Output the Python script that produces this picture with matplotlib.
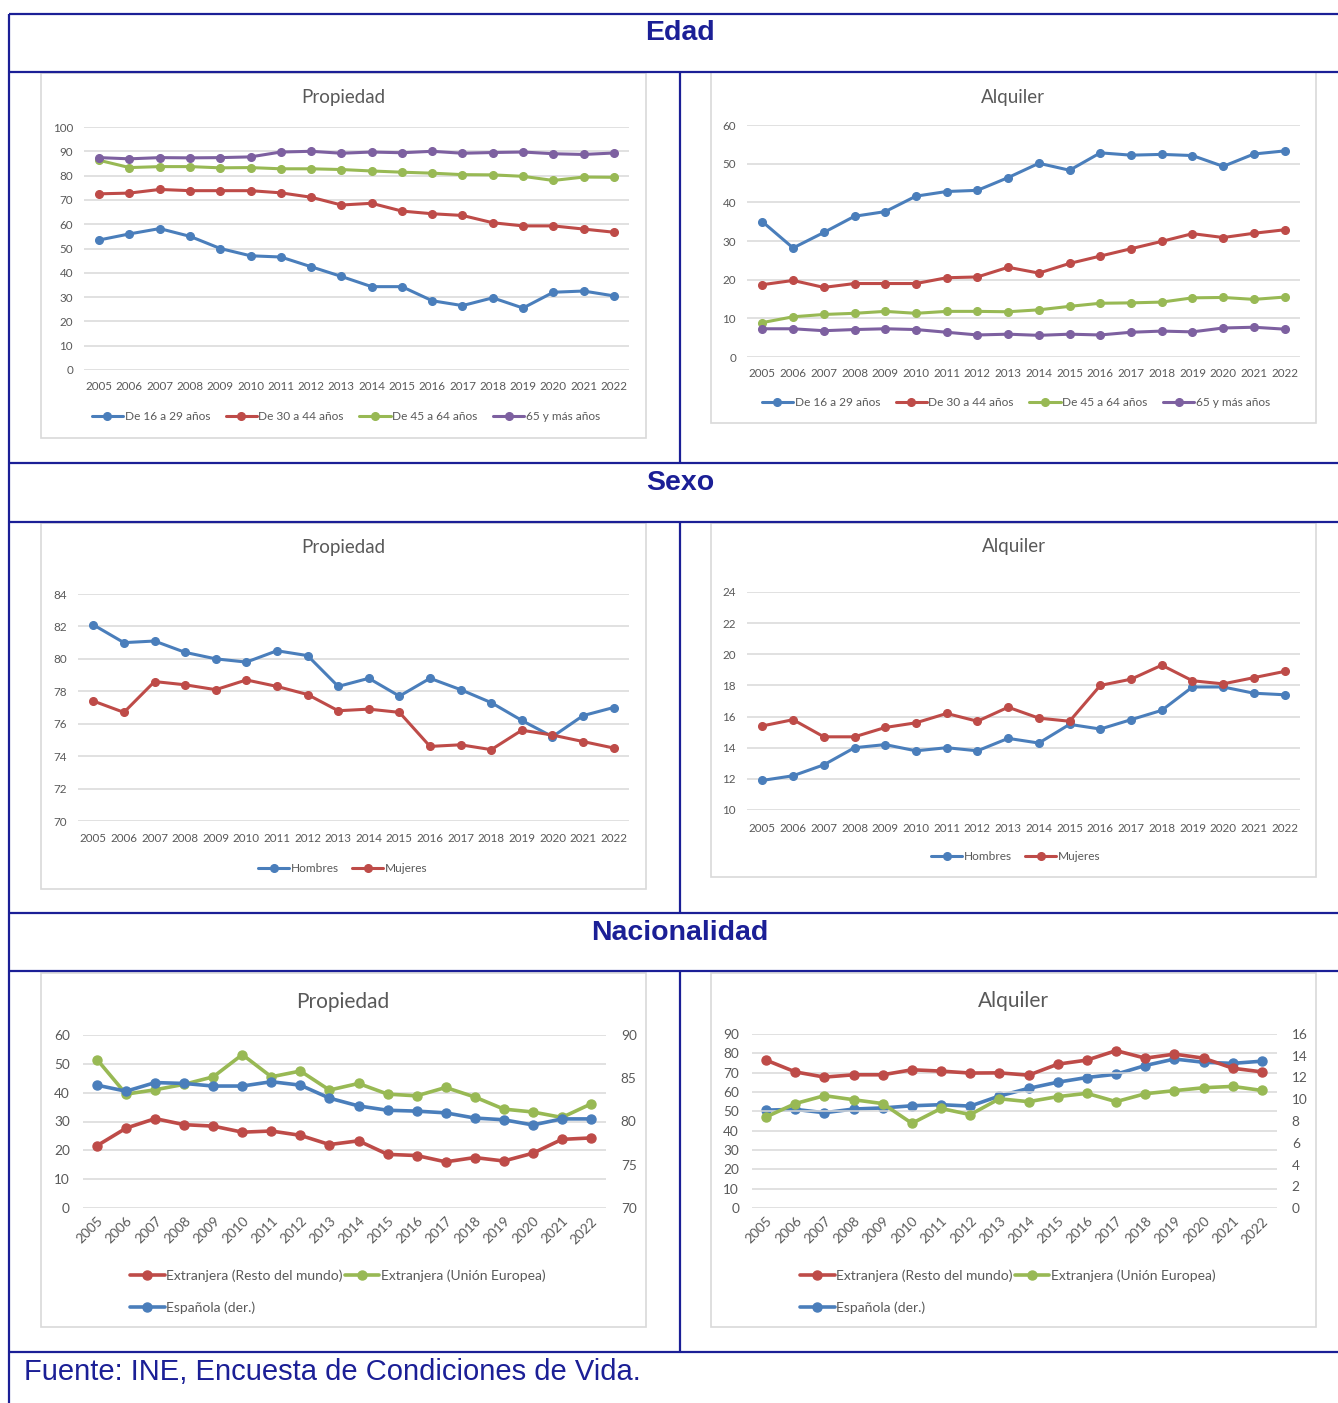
import matplotlib
matplotlib.use("Agg")
import matplotlib.pyplot as plt
from matplotlib.lines import Line2D
from matplotlib.patches import Rectangle

plt.rcParams['font.family'] = ['Lato', 'DejaVu Sans']

# ---------------- data ----------------
years = [str(y) for y in range(2005, 2023)]

# Edad - Propiedad
edad_prop_16_29 = [53.5, 56.0, 58.2, 55.0, 50.0, 47.0, 46.5, 42.5, 38.5, 34.3, 34.3, 28.5, 26.5, 29.7, 25.5, 32.0, 32.5, 30.5]
edad_prop_30_44 = [72.5, 72.8, 74.3, 73.8, 73.8, 73.8, 72.9, 71.1, 67.9, 68.6, 65.4, 64.3, 63.6, 60.6, 59.3, 59.3, 58.0, 56.7]
edad_prop_45_64 = [86.3, 83.3, 83.7, 83.7, 83.2, 83.3, 82.8, 82.8, 82.5, 81.9, 81.4, 81.0, 80.4, 80.3, 79.7, 78.0, 79.4, 79.3]
edad_prop_65 = [87.4, 86.9, 87.4, 87.3, 87.4, 87.7, 89.7, 90.0, 89.2, 89.7, 89.4, 90.0, 89.2, 89.5, 89.7, 89.0, 88.7, 89.3]

# Edad - Alquiler
edad_alq_16_29 = [35.0, 28.2, 32.2, 36.4, 37.6, 41.6, 42.8, 43.1, 46.4, 50.1, 48.3, 52.8, 52.2, 52.4, 52.1, 49.3, 52.5, 53.3]
edad_alq_30_44 = [18.7, 19.8, 18.0, 19.0, 19.0, 19.0, 20.5, 20.7, 23.2, 21.7, 24.2, 26.1, 28.0, 29.9, 31.9, 30.9, 32.0, 32.9]
edad_alq_45_64 = [8.9, 10.4, 11.0, 11.3, 11.8, 11.3, 11.8, 11.8, 11.7, 12.2, 13.1, 13.9, 14.0, 14.2, 15.3, 15.4, 14.9, 15.5]
edad_alq_65 = [7.3, 7.3, 6.8, 7.1, 7.3, 7.1, 6.4, 5.7, 5.9, 5.6, 5.9, 5.7, 6.4, 6.7, 6.5, 7.5, 7.7, 7.2]

# Sexo - Propiedad
sexo_prop_hombres = [82.1, 81.0, 81.1, 80.4, 80.0, 79.8, 80.5, 80.2, 78.3, 78.8, 77.7, 78.8, 78.1, 77.3, 76.2, 75.2, 76.5, 77.0]
sexo_prop_mujeres = [77.4, 76.7, 78.6, 78.4, 78.1, 78.7, 78.3, 77.8, 76.8, 76.9, 76.7, 74.6, 74.7, 74.4, 75.6, 75.3, 74.9, 74.5]

# Sexo - Alquiler
sexo_alq_hombres = [11.9, 12.2, 12.9, 14.0, 14.2, 13.8, 14.0, 13.8, 14.6, 14.3, 15.5, 15.2, 15.8, 16.4, 17.9, 17.9, 17.5, 17.4]
sexo_alq_mujeres = [15.4, 15.8, 14.7, 14.7, 15.3, 15.6, 16.2, 15.7, 16.6, 15.9, 15.7, 18.0, 18.4, 19.3, 18.3, 18.1, 18.5, 18.9]

# Nacionalidad - Propiedad
nac_prop_resto = [21.6, 27.7, 31.0, 28.9, 28.4, 26.3, 26.7, 25.2, 22.0, 23.3, 18.6, 18.2, 16.0, 17.5, 16.3, 19.0, 23.8, 24.3]
nac_prop_ue = [51.5, 39.5, 41.0, 42.9, 45.5, 53.2, 45.5, 47.5, 40.9, 43.2, 39.5, 38.9, 41.8, 38.5, 34.3, 33.3, 31.4, 36.1]
nac_prop_esp = [84.2, 83.5, 84.5, 84.4, 84.1, 84.1, 84.6, 84.2, 82.7, 81.8, 81.3, 81.2, 81.0, 80.4, 80.2, 79.6, 80.3, 80.3]

# Nacionalidad - Alquiler
nac_alq_resto = [76.5, 70.4, 67.7, 68.9, 68.9, 71.5, 70.8, 69.8, 69.9, 68.7, 74.4, 76.5, 81.4, 77.5, 79.6, 77.5, 72.3, 70.4]
nac_alq_ue = [47.1, 54.0, 58.1, 56.0, 54.0, 43.8, 51.5, 48.3, 56.5, 55.0, 57.6, 59.3, 55.0, 59.1, 60.7, 62.2, 62.9, 60.8]
nac_alq_esp = [9.0, 9.07, 8.76, 9.1, 9.2, 9.4, 9.5, 9.37, 10.3, 11.0, 11.57, 12.0, 12.3, 13.1, 13.7, 13.4, 13.3, 13.5]

edad_labels = ["De 16 a 29 años", "De 30 a 44 años", "De 45 a 64 años", "65 y más años"]
sexo_labels = ["Hombres", "Mujeres"]
nac_labels = ["Extranjera (Resto del mundo)", "Extranjera (Unión Europea)", "Española (der.)"]

BLUE = '#4A7EBB'
RED = '#BE4B48'
GREEN = '#98B954'
PURPLE = '#7D60A0'
NAVY = '#1B1F96'
GRID = '#D9D9D9'
TXT = '#595959'

W, H = 1338, 1403
fig = plt.figure(figsize=(W / 100, H / 100), dpi=100)


def fx(x):
    return x / W


def fy(y):
    return 1 - y / H


def rect(x0, y0, x1, y1):
    return [x0 / W, 1 - y1 / H, (x1 - x0) / W, (y1 - y0) / H]


def hline(y, x0, x1):
    fig.add_artist(Line2D([fx(x0), fx(x1)], [fy(y), fy(y)], transform=fig.transFigure,
                          color=NAVY, lw=1.6, solid_capstyle='butt'))


def vline(x, y0, y1):
    fig.add_artist(Line2D([fx(x), fx(x)], [fy(y0), fy(y1)], transform=fig.transFigure,
                          color=NAVY, lw=1.6, solid_capstyle='butt'))


def box(x0, y0, x1, y1):
    fig.add_artist(Rectangle((fx(x0), fy(y1)), (x1 - x0) / W, (y1 - y0) / H,
                             transform=fig.transFigure, fill=False, ec=GRID, lw=1.2))


def setup(ax, ylim, yticks, fs, rot=False, padx=7, pady=8):
    ax.set_xlim(-0.5, len(years) - 0.5)
    ax.set_ylim(*ylim)
    ax.set_yticks(yticks)
    ax.set_xticks(range(len(years)))
    if rot:
        ax.set_xticklabels(years, rotation=45, ha='right', rotation_mode='anchor')
    else:
        ax.set_xticklabels(years)
    ax.grid(axis='y', color=GRID, lw=1.1)
    ax.set_axisbelow(True)
    for s in ax.spines.values():
        s.set_visible(False)
    ax.tick_params(axis='x', length=0, labelcolor=TXT, labelsize=fs, pad=padx)
    ax.tick_params(axis='y', length=0, labelcolor=TXT, labelsize=fs, pad=pady)
    ax.patch.set_alpha(0)


def series(ax, vals, color, label, lw=2.2, ms=5.5):
    return ax.plot(range(len(vals)), vals, color=color, lw=lw, marker='o', ms=ms,
                   label=label, solid_capstyle='round')[0]


# ---------------- table frame ----------------
for y in [14, 72, 463, 522, 913, 971, 1352]:
    hline(y, 9, W)
vline(9, 14, H)
for (a, b) in [(72, 463), (522, 913), (971, 1352)]:
    vline(680, a, b)

hdr_kw = dict(ha='center', va='center', fontsize=20.5, fontweight='bold', color=NAVY,
              family=['Liberation Sans', 'DejaVu Sans'])
fig.text(fx(680), fy(33), 'Edad', **hdr_kw)
fig.text(fx(680), fy(483), 'Sexo', **hdr_kw)
fig.text(fx(680), fy(933), 'Nacionalidad', **hdr_kw)
fig.text(fx(24), fy(1372), 'Fuente: INE, Encuesta de Condiciones de Vida.', ha='left', va='center',
         fontsize=21, color=NAVY, family=['Liberation Sans', 'DejaVu Sans'])

# chart boxes
box(41, 73, 646, 438)
box(711, 72, 1316, 423)
box(41, 523, 646, 889)
box(711, 523, 1316, 877)
box(41, 973, 646, 1327)
box(711, 973, 1316, 1327)

title_kw = dict(ha='center', va='center', color=TXT)

FS = 8.4
LFS = 8.6

# ---------------- Edad Propiedad ----------------
ax1 = fig.add_axes(rect(84, 127, 629, 370))
setup(ax1, (0, 100), range(0, 101, 10), FS, padx=8)
h = [series(ax1, edad_prop_16_29, BLUE, edad_labels[0]),
     series(ax1, edad_prop_30_44, RED, edad_labels[1]),
     series(ax1, edad_prop_45_64, GREEN, edad_labels[2]),
     series(ax1, edad_prop_65, PURPLE, edad_labels[3])]
fig.text(fx(343), fy(98), 'Propiedad', fontsize=13.5, **title_kw)
fig.legend(handles=h, loc='center', bbox_to_anchor=(fx(346), fy(417)), ncol=4, frameon=False,
           fontsize=LFS, handlelength=2.6, handletextpad=0.15, columnspacing=1.3, borderpad=0,
           labelcolor=TXT)

# ---------------- Edad Alquiler ----------------
ax2 = fig.add_axes(rect(747, 125, 1300, 357))
setup(ax2, (0, 60), range(0, 61, 10), FS, padx=8)
h = [series(ax2, edad_alq_16_29, BLUE, edad_labels[0]),
     series(ax2, edad_alq_30_44, RED, edad_labels[1]),
     series(ax2, edad_alq_45_64, GREEN, edad_labels[2]),
     series(ax2, edad_alq_65, PURPLE, edad_labels[3])]
fig.text(fx(1013), fy(97), 'Alquiler', fontsize=13.5, **title_kw)
fig.legend(handles=h, loc='center', bbox_to_anchor=(fx(1016), fy(403)), ncol=4, frameon=False,
           fontsize=LFS, handlelength=2.6, handletextpad=0.15, columnspacing=1.3, borderpad=0,
           labelcolor=TXT)

# ---------------- Sexo Propiedad ----------------
ax3 = fig.add_axes(rect(78, 594, 629, 821))
setup(ax3, (70, 84), range(70, 85, 2), FS, padx=9)
h = [series(ax3, sexo_prop_hombres, BLUE, sexo_labels[0]),
     series(ax3, sexo_prop_mujeres, RED, sexo_labels[1])]
fig.text(fx(343), fy(548), 'Propiedad', fontsize=13.5, **title_kw)
fig.legend(handles=h, loc='center', bbox_to_anchor=(fx(343), fy(869)), ncol=2, frameon=False,
           fontsize=LFS, handlelength=2.6, handletextpad=0.15, columnspacing=1.1, borderpad=0,
           labelcolor=TXT)

# ---------------- Sexo Alquiler ----------------
ax4 = fig.add_axes(rect(747, 592, 1300, 810))
setup(ax4, (10, 24), range(10, 25, 2), FS, padx=9)
h = [series(ax4, sexo_alq_hombres, BLUE, sexo_labels[0]),
     series(ax4, sexo_alq_mujeres, RED, sexo_labels[1])]
fig.text(fx(1014), fy(547), 'Alquiler', fontsize=13.5, **title_kw)
fig.legend(handles=h, loc='center', bbox_to_anchor=(fx(1016), fy(857)), ncol=2, frameon=False,
           fontsize=LFS, handlelength=2.6, handletextpad=0.15, columnspacing=1.1, borderpad=0,
           labelcolor=TXT)

FS2 = 9.8
LFS2 = 10

# ---------------- Nacionalidad Propiedad ----------------
ax5 = fig.add_axes(rect(82.5, 1035, 605.5, 1208))
setup(ax5, (0, 60), range(0, 61, 10), FS2, rot=True, padx=5, pady=9)
ax5b = ax5.twinx()
ax5b.set_ylim(70, 90)
ax5b.set_yticks(range(70, 91, 5))
for s in ax5b.spines.values():
    s.set_visible(False)
ax5b.tick_params(axis='y', length=0, labelcolor=TXT, labelsize=FS2, pad=11)
hr = series(ax5, nac_prop_resto, RED, nac_labels[0], lw=2.6, ms=6.5)
hg = series(ax5, nac_prop_ue, GREEN, nac_labels[1], lw=2.6, ms=6.5)
hb = series(ax5b, nac_prop_esp, BLUE, nac_labels[2], lw=2.6, ms=6.5)
fig.text(fx(343), fy(1002), 'Propiedad', fontsize=15, **title_kw)
fig.legend(handles=[hr, hb, hg], loc='upper left', bbox_to_anchor=(fx(130), fy(1269)), ncol=2,
           frameon=False, fontsize=LFS2, handlelength=2.5, handletextpad=0.1, columnspacing=0.15,
           labelspacing=1.4, borderpad=0, borderaxespad=0, labelcolor=TXT)

# ---------------- Nacionalidad Alquiler ----------------
ax6 = fig.add_axes(rect(751.5, 1034, 1276.5, 1208))
setup(ax6, (0, 90), range(0, 91, 10), FS2, rot=True, padx=5, pady=9)
ax6b = ax6.twinx()
ax6b.set_ylim(0, 16)
ax6b.set_yticks(range(0, 17, 2))
for s in ax6b.spines.values():
    s.set_visible(False)
ax6b.tick_params(axis='y', length=0, labelcolor=TXT, labelsize=FS2, pad=11)
hb = series(ax6b, nac_alq_esp, BLUE, nac_labels[2], lw=2.6, ms=6.5)
ax6.set_zorder(ax6b.get_zorder() + 1)
hr = series(ax6, nac_alq_resto, RED, nac_labels[0], lw=2.6, ms=6.5)
hg = series(ax6, nac_alq_ue, GREEN, nac_labels[1], lw=2.6, ms=6.5)
fig.text(fx(1013), fy(1001), 'Alquiler', fontsize=15, **title_kw)
fig.legend(handles=[hr, hb, hg], loc='upper left', bbox_to_anchor=(fx(800), fy(1269)), ncol=2,
           frameon=False, fontsize=LFS2, handlelength=2.5, handletextpad=0.1, columnspacing=0.15,
           labelspacing=1.4, borderpad=0, borderaxespad=0, labelcolor=TXT)

fig.savefig('out.png', dpi=100)
